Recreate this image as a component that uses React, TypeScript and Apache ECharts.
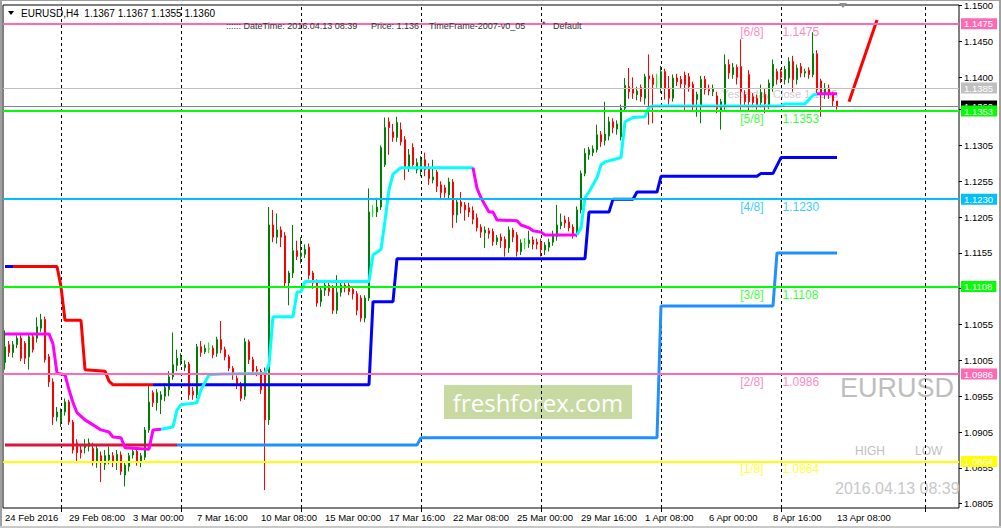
import React, { useEffect, useRef } from "react";
import * as echarts from "echarts";

// ---------------- DATA ----------------
const symbolName = "EURUSD,H4";
const timeLabels = [
  "24 Feb 2016", "29 Feb 08:00", "3 Mar 00:00", "7 Mar 16:00", "10 Mar 08:00",
  "15 Mar 00:00", "17 Mar 16:00", "22 Mar 08:00", "25 Mar 00:00", "29 Mar 16:00",
  "1 Apr 08:00", "6 Apr 00:00", "8 Apr 16:00", "13 Apr 08:00",
];
const LABEL_STEP = 16; // bars between time labels
const SLOT_COUNT = 239; // bar slots on the time axis (incl. empty future area)
const gridBars = [14, 44, 74, 104, 134, 164, 194, 230];
const priceTicks = [
  1.0805, 1.0855, 1.0905, 1.0955, 1.1005, 1.1055, 1.1105, 1.1155, 1.1205,
  1.1255, 1.1305, 1.1355, 1.14, 1.145, 1.15,
];

// [open, close, low, high]
const candles: number[][] = [
  [1.1002, 1.1024, 1.0992, 1.1047], [1.1027, 1.1016, 1.1010, 1.1032], [1.1016, 1.1027, 1.1009, 1.1032],
  [1.1027, 1.1036, 1.1022, 1.1040], [1.1036, 1.1008, 1.1004, 1.1040], [1.1029, 1.1008, 1.1000, 1.1032],
  [1.1010, 1.1038, 1.0992, 1.1041], [1.1038, 1.1020, 1.1016, 1.1042], [1.1036, 1.1052, 1.1030, 1.1065],
  [1.1050, 1.1062, 1.1045, 1.1070], [1.1062, 1.1006, 1.1002, 1.1066], [1.1010, 1.0975, 1.0968, 1.1014],
  [1.0975, 1.0926, 1.0915, 1.0980], [1.0926, 1.0933, 1.0920, 1.0940], [1.0920, 1.0933, 1.0912, 1.0938],
  [1.0933, 1.0947, 1.0928, 1.0952], [1.0947, 1.0919, 1.0915, 1.0950], [1.0919, 1.0880, 1.0875, 1.0922],
  [1.0890, 1.0876, 1.0863, 1.0895], [1.0880, 1.0876, 1.0868, 1.0888], [1.0883, 1.0887, 1.0875, 1.0895],
  [1.0885, 1.0890, 1.0878, 1.0896], [1.0882, 1.0863, 1.0858, 1.0890], [1.0862, 1.0882, 1.0855, 1.0887],
  [1.0872, 1.0863, 1.0835, 1.0878], [1.0860, 1.0872, 1.0852, 1.0880], [1.0866, 1.0873, 1.0860, 1.0885],
  [1.0872, 1.0863, 1.0856, 1.0877], [1.0863, 1.0874, 1.0852, 1.0880], [1.0873, 1.0850, 1.0845, 1.0878],
  [1.0845, 1.0859, 1.0829, 1.0863], [1.0857, 1.0872, 1.0850, 1.0876], [1.0873, 1.0878, 1.0868, 1.0884],
  [1.0878, 1.0864, 1.0858, 1.0882], [1.0862, 1.0872, 1.0856, 1.0876], [1.0870, 1.0908, 1.0866, 1.0912],
  [1.0908, 1.0947, 1.0904, 1.0970], [1.0960, 1.0946, 1.0940, 1.0963], [1.0946, 1.0960, 1.0935, 1.0965],
  [1.0950, 1.0957, 1.0930, 1.0962], [1.0955, 1.0967, 1.0948, 1.0973], [1.0964, 1.0982, 1.0955, 1.0990],
  [1.0982, 1.0999, 1.0978, 1.1044], [1.0998, 1.1008, 1.0990, 1.1020], [1.1005, 1.1010, 1.0998, 1.1015],
  [1.0995, 1.0999, 1.0990, 1.1005], [1.1000, 1.0957, 1.0950, 1.1003], [1.0962, 1.0957, 1.0950, 1.0968],
  [1.0957, 1.1024, 1.0952, 1.1028], [1.1024, 1.1016, 1.1010, 1.1032], [1.1017, 1.1022, 1.1014, 1.1027],
  [1.1021, 1.1021, 1.1015, 1.1030], [1.1022, 1.1013, 1.1008, 1.1026], [1.1015, 1.1034, 1.1010, 1.1038],
  [1.1034, 1.1020, 1.1015, 1.1060], [1.1020, 1.1010, 1.1005, 1.1024], [1.1010, 1.0994, 1.0990, 1.1013],
  [1.0994, 1.0985, 1.0978, 1.0997], [1.0980, 1.0970, 1.0965, 1.0984], [1.0972, 1.0952, 1.0948, 1.0975],
  [1.0955, 1.1031, 1.0950, 1.1036], [1.1031, 1.1006, 1.1000, 1.1034], [1.1006, 1.0990, 1.0985, 1.1010],
  [1.0992, 1.0990, 1.0983, 1.0997], [1.0990, 1.0964, 1.0958, 1.0993], [1.0990, 1.0922, 1.0824, 1.0995],
  [1.0922, 1.1194, 1.0915, 1.1219], [1.1194, 1.1177, 1.1170, 1.1215], [1.1177, 1.1187, 1.1168, 1.1210],
  [1.1187, 1.1177, 1.1163, 1.1192], [1.1179, 1.1113, 1.1108, 1.1184], [1.1113, 1.1127, 1.1082, 1.1130],
  [1.1127, 1.1158, 1.1120, 1.1194], [1.1158, 1.1150, 1.1145, 1.1172], [1.1150, 1.1155, 1.1140, 1.1177],
  [1.1153, 1.1160, 1.1148, 1.1167], [1.1163, 1.1124, 1.1118, 1.1168], [1.1127, 1.1113, 1.1105, 1.1130],
  [1.1115, 1.1085, 1.1080, 1.1118], [1.1087, 1.1103, 1.1080, 1.1108], [1.1103, 1.1110, 1.1095, 1.1115],
  [1.1110, 1.1101, 1.1095, 1.1114], [1.1106, 1.1075, 1.1070, 1.1110], [1.1075, 1.1100, 1.1070, 1.1124],
  [1.1100, 1.1110, 1.1094, 1.1115], [1.1110, 1.1106, 1.1100, 1.1114], [1.1110, 1.1101, 1.1096, 1.1113],
  [1.1104, 1.1098, 1.1090, 1.1108], [1.1098, 1.1075, 1.1068, 1.1102], [1.1092, 1.1064, 1.1059, 1.1096],
  [1.1064, 1.1092, 1.1058, 1.1096], [1.1092, 1.1212, 1.1088, 1.1245], [1.1212, 1.1212, 1.1205, 1.1222],
  [1.1212, 1.1219, 1.1205, 1.1232], [1.1219, 1.1302, 1.1215, 1.1305], [1.1278, 1.1330, 1.1275, 1.1344],
  [1.1338, 1.1330, 1.1292, 1.1344], [1.1324, 1.1316, 1.1310, 1.1335], [1.1316, 1.1337, 1.1310, 1.1345],
  [1.1327, 1.1310, 1.1305, 1.1337], [1.1313, 1.1275, 1.1257, 1.1318], [1.1275, 1.1292, 1.1268, 1.1300],
  [1.1302, 1.1278, 1.1272, 1.1308], [1.1271, 1.1281, 1.1266, 1.1287], [1.1271, 1.1285, 1.1262, 1.1290],
  [1.1285, 1.1271, 1.1262, 1.1295], [1.1273, 1.1259, 1.1250, 1.1280], [1.1257, 1.1261, 1.1252, 1.1285],
  [1.1268, 1.1248, 1.1240, 1.1271], [1.1250, 1.1239, 1.1230, 1.1255], [1.1246, 1.1239, 1.1232, 1.1250],
  [1.1236, 1.1254, 1.1230, 1.1260], [1.1254, 1.1208, 1.1190, 1.1258], [1.1208, 1.1226, 1.1197, 1.1230],
  [1.1226, 1.1220, 1.1210, 1.1240], [1.1222, 1.1215, 1.1200, 1.1226], [1.1218, 1.1212, 1.1205, 1.1225],
  [1.1214, 1.1202, 1.1195, 1.1220], [1.1204, 1.1190, 1.1185, 1.1210], [1.1191, 1.1184, 1.1176, 1.1195],
  [1.1183, 1.1187, 1.1162, 1.1192], [1.1186, 1.1182, 1.1175, 1.1190], [1.1185, 1.1171, 1.1165, 1.1189],
  [1.1171, 1.1176, 1.1166, 1.1180], [1.1177, 1.1172, 1.1162, 1.1182], [1.1174, 1.1162, 1.1150, 1.1178],
  [1.1162, 1.1187, 1.1155, 1.1192], [1.1187, 1.1177, 1.1170, 1.1190], [1.1180, 1.1157, 1.1150, 1.1184],
  [1.1157, 1.1169, 1.1152, 1.1174], [1.1168, 1.1168, 1.1160, 1.1176], [1.1168, 1.1173, 1.1162, 1.1186],
  [1.1173, 1.1167, 1.1160, 1.1178], [1.1170, 1.1167, 1.1160, 1.1175], [1.1170, 1.1160, 1.1150, 1.1175],
  [1.1159, 1.1166, 1.1152, 1.1170], [1.1163, 1.1170, 1.1157, 1.1175], [1.1170, 1.1180, 1.1165, 1.1186],
  [1.1178, 1.1194, 1.1172, 1.1222], [1.1193, 1.1198, 1.1188, 1.1210], [1.1201, 1.1197, 1.1190, 1.1207],
  [1.1198, 1.1190, 1.1185, 1.1205], [1.1191, 1.1182, 1.1175, 1.1195], [1.1182, 1.1215, 1.1177, 1.1220],
  [1.1215, 1.1266, 1.1210, 1.1270], [1.1266, 1.1294, 1.1262, 1.1301], [1.1292, 1.1299, 1.1285, 1.1303],
  [1.1295, 1.1300, 1.1290, 1.1305], [1.1299, 1.1320, 1.1295, 1.1334], [1.1320, 1.1310, 1.1303, 1.1325],
  [1.1312, 1.1321, 1.1305, 1.1366], [1.1318, 1.1338, 1.1312, 1.1345], [1.1338, 1.1330, 1.1322, 1.1343],
  [1.1328, 1.1335, 1.1320, 1.1340], [1.1317, 1.1357, 1.1312, 1.1362], [1.1357, 1.1389, 1.1352, 1.1399],
  [1.1387, 1.1380, 1.1370, 1.1413], [1.1384, 1.1378, 1.1370, 1.1400], [1.1376, 1.1381, 1.1368, 1.1387],
  [1.1386, 1.1373, 1.1366, 1.1390], [1.1371, 1.1401, 1.1362, 1.1405], [1.1402, 1.1398, 1.1334, 1.1432],
  [1.1399, 1.1390, 1.1336, 1.1404], [1.1393, 1.1393, 1.1385, 1.1405], [1.1385, 1.1408, 1.1378, 1.1416],
  [1.1408, 1.1385, 1.1369, 1.1412], [1.1385, 1.1371, 1.1362, 1.1402], [1.1371, 1.1399, 1.1366, 1.1404],
  [1.1399, 1.1394, 1.1388, 1.1405], [1.1397, 1.1391, 1.1385, 1.1402], [1.1403, 1.1390, 1.1352, 1.1408],
  [1.1401, 1.1387, 1.1380, 1.1406], [1.1390, 1.1359, 1.1352, 1.1394], [1.1369, 1.1376, 1.1345, 1.1380],
  [1.1359, 1.1397, 1.1336, 1.1402], [1.1397, 1.1383, 1.1376, 1.1402], [1.1383, 1.1381, 1.1375, 1.1390],
  [1.1380, 1.1385, 1.1374, 1.1390], [1.1374, 1.1356, 1.1350, 1.1380], [1.1354, 1.1366, 1.1327, 1.1370],
  [1.1362, 1.1418, 1.1355, 1.1432], [1.1418, 1.1406, 1.1398, 1.1425], [1.1404, 1.1414, 1.1398, 1.1420],
  [1.1414, 1.1400, 1.1390, 1.1418], [1.1415, 1.1380, 1.1355, 1.1453], [1.1376, 1.1366, 1.1360, 1.1382],
  [1.1404, 1.1366, 1.1352, 1.1410], [1.1373, 1.1365, 1.1358, 1.1378], [1.1371, 1.1362, 1.1355, 1.1376],
  [1.1365, 1.1379, 1.1358, 1.1390], [1.1376, 1.1363, 1.1350, 1.1385], [1.1362, 1.1392, 1.1356, 1.1397],
  [1.1388, 1.1418, 1.1380, 1.1425], [1.1408, 1.1397, 1.1390, 1.1412], [1.1408, 1.1400, 1.1392, 1.1412],
  [1.1397, 1.1411, 1.1390, 1.1416], [1.1399, 1.1422, 1.1392, 1.1428], [1.1422, 1.1397, 1.1380, 1.1430],
  [1.1397, 1.1413, 1.1390, 1.1418], [1.1415, 1.1406, 1.1400, 1.1420], [1.1406, 1.1408, 1.1400, 1.1412],
  [1.1410, 1.1404, 1.1398, 1.1414], [1.1404, 1.1433, 1.1400, 1.1463], [1.1433, 1.1383, 1.1378, 1.1438],
  [1.1395, 1.1376, 1.1345, 1.1398], [1.1376, 1.1385, 1.1370, 1.1392], [1.1385, 1.1376, 1.1370, 1.1390],
  [1.1376, 1.1367, 1.1360, 1.1380], [1.1367, 1.1360, 1.1355, 1.1367],
];

// step-trend indicator (upper), vertices [bar, price]
const trendBlueStart = [[0, 1.1136], [2, 1.1136]];
const trendRed = [[2, 1.1136], [13, 1.1136], [14, 1.1108], [15, 1.1061], [19, 1.1061], [20, 1.0992], [25, 1.099], [26, 1.0976], [27, 1.0971], [37, 1.0971]];
const trendBlue = [[37, 1.0971], [91, 1.0971], [92, 1.1087], [97, 1.1087], [98, 1.1147], [145, 1.1147], [146, 1.1212], [151, 1.1212], [152, 1.123], [157, 1.123], [158, 1.124], [163, 1.124], [164, 1.1262], [188, 1.1262], [189, 1.1266], [192, 1.1266], [194, 1.1288], [208, 1.1288]];
// step-trend indicator (lower)
const baseCrimson = [[0, 1.0887], [43, 1.0887]];
const baseDodger = [[43, 1.0887], [103, 1.0887], [104, 1.0897], [163, 1.0897], [164, 1.1081], [192, 1.1081], [193, 1.1155], [208, 1.1155]];
// trailing line: magenta (down) / cyan (up)
const trailMagenta1 = [[0, 1.1042], [11, 1.1042], [12, 1.1028], [13, 1.0987], [15, 1.0985], [16, 1.0964], [17, 1.0946], [18, 1.0932], [20, 1.0922], [22, 1.0915], [24, 1.0908], [26, 1.0905], [27, 1.0898], [29, 1.0897], [30, 1.0883], [36, 1.0881], [37, 1.0908], [39, 1.0909]];
const trailCyan1 = [[39, 1.0909], [42, 1.0912], [43, 1.0936], [44, 1.0943], [48, 1.0946], [49, 1.0964], [51, 1.0985], [54, 1.0986], [65, 1.0987], [66, 1.0999], [67, 1.1066], [72, 1.1066], [73, 1.11], [74, 1.1101], [75, 1.1115], [91, 1.1115], [92, 1.1152], [94, 1.116], [95, 1.12], [96, 1.1243], [97, 1.1265], [99, 1.1274], [117, 1.1274]];
const trailMagenta2 = [[117, 1.1274], [118, 1.1245], [119, 1.1232], [120, 1.1222], [121, 1.1212], [122, 1.1212], [123, 1.1201], [128, 1.12], [129, 1.1194], [131, 1.119], [132, 1.1186], [134, 1.1184], [135, 1.118], [143, 1.118]];
const trailCyan2 = [[143, 1.118], [144, 1.119], [145, 1.1232], [146, 1.124], [147, 1.125], [148, 1.126], [149, 1.1278], [150, 1.1282], [152, 1.1285], [154, 1.1288], [155, 1.1338], [157, 1.1344], [160, 1.1345], [161, 1.1358], [162, 1.136], [194, 1.136], [195, 1.1363], [200, 1.1363], [202, 1.1375], [203, 1.1377]];
const trailMagenta3 = [[203, 1.1377], [208, 1.1377]];
const projection = [[211, 1.1366], [218, 1.148]];

// Murrey levels
const levelTags = ["[6/8]", "[5/8]", "[4/8]", "[3/8]", "[2/8]", "[1/8]"];
const levelValues = [1.1475, 1.1353, 1.123, 1.1108, 1.0986, 1.0864];
const yesterdayClose = 1.1385;
const currentPrice = 1.136;

const infoDateTime = "2016.04.13 08:39";
const infoPrice = "1.136";
const infoTimeFrame = "TimeFrame-2007-v0_05";
const infoTemplate = "Default";

// ---------------- STYLE ----------------
const FONT = '"Liberation Sans", Arial, sans-serif';
const Y_MIN = 1.0799;
const Y_MAX = 1.1501;
const LEVEL_COLORS = ["#FF69B4", "#00FF00", "#00BFFF", "#00FF00", "#FF69B4", "#FFFF00"];
const UP = "#008000";
const DOWN = "#FF0000";
const DOJI = "#00FF00";
const LEVEL_TAG_BAR = 190;
const LEVEL_VALUE_BAR = 194;
const NOTE_BAR = 179;

function lineSeries(data: number[][], color: string, width = 3) {
  return {
    type: "line",
    data,
    symbol: "none",
    showSymbol: false,
    silent: true,
    z: 3,
    lineStyle: { color, width },
    itemStyle: { color },
  };
}

function textEl(text: string, x: number, y: number, font: string, fill: string, align = "left", z = 0) {
  return {
    type: "text",
    x,
    y,
    z,
    silent: true,
    style: {
      text,
      font,
      fill,
      align,
      textAlign: align,
      verticalAlign: "middle",
      textVerticalAlign: "middle",
    },
  };
}

function buildOption() {
  const categories = Array.from({ length: SLOT_COUNT }, (_, i) => String(i));
  const candleItems = candles.map((c) =>
    c[0] === c[1]
      ? { value: c, itemStyle: { color: DOJI, color0: DOJI, borderColor: DOJI, borderColor0: DOJI } }
      : c
  );
  const last = candles[candles.length - 1];
  const header = `${symbolName}  ${last[0].toFixed(4)} ${last[3].toFixed(4)} ${last[2].toFixed(4)} ${last[1].toFixed(4)}`;

  const boxLabel = (bg: string) => ({
    show: true,
    position: "end",
    distance: 2,
    formatter: (p: any) => Number(p.value).toFixed(4),
    color: "#fff",
    backgroundColor: bg,
    padding: [1, 4, 0, 3],
    fontSize: 9.5,
    lineHeight: 10,
    fontFamily: FONT,
  });

  const levelLines = [
    { yAxis: yesterdayClose, lineStyle: { color: "#C0C0C0", width: 1, type: "solid" }, label: boxLabel("#C0C0C0") },
    { yAxis: currentPrice, lineStyle: { color: "#778899", width: 1, type: "solid" }, label: boxLabel("#000000") },
    ...levelValues.map((v, i) => ({
      yAxis: v,
      lineStyle: { color: LEVEL_COLORS[i], width: 2, type: "solid" },
      label: boxLabel(LEVEL_COLORS[i]),
    })),
  ];

  return {
    animation: false,
    backgroundColor: "#ffffff",
    grid: {
      left: 3,
      top: 5,
      width: 956,
      height: 503,
      show: true,
      borderColor: "#000",
      borderWidth: 1,
      backgroundColor: "transparent",
    },
    xAxis: {
      type: "category",
      data: categories,
      boundaryGap: true,
      axisLine: { show: false },
      axisTick: {
        show: true,
        alignWithLabel: true,
        interval: (i: number) => gridBars.includes(i),
        length: 4,
        lineStyle: { color: "#000" },
      },
      axisLabel: {
        interval: (i: number) => i % LABEL_STEP === 0 && i / LABEL_STEP < timeLabels.length,
        formatter: (_v: string, i: number) => timeLabels[i / LABEL_STEP] ?? "",
        align: "left",
        margin: 4,
        fontSize: 9.5,
        color: "#000",
        fontFamily: FONT,
      },
      splitLine: { show: false },
    },
    yAxis: {
      type: "value",
      position: "right",
      min: Y_MIN,
      max: Y_MAX,
      scale: true,
      splitLine: { show: false },
      axisLine: { show: false },
      axisTick: { show: true, customValues: priceTicks, length: 3, lineStyle: { color: "#000" } },
      axisLabel: {
        customValues: priceTicks,
        formatter: (v: number) => v.toFixed(4),
        margin: 5,
        fontSize: 9.5,
        color: "#000",
        fontFamily: FONT,
      },
    },
    graphic: [
      { type: "rect", shape: { x: 0, y: 0, width: 2, height: 528 }, style: { fill: "#A0A0A0" }, z: 20, silent: true },
      { type: "rect", shape: { x: 0, y: 0, width: 1001, height: 1 }, style: { fill: "#A0A0A0" }, z: 20, silent: true },
      { type: "rect", shape: { x: 999, y: 0, width: 2, height: 528 }, style: { fill: "#A0A0A0" }, z: 20, silent: true },
      { type: "rect", shape: { x: 0, y: 526, width: 1001, height: 2 }, style: { fill: "#C8C8C8" }, z: 20, silent: true },
      { type: "polygon", shape: { points: [[8, 11], [14, 11], [11, 15]] }, style: { fill: "#000" }, z: 20, silent: true },
      { type: "polygon", shape: { points: [[839, 3], [847, 3], [843, 8]] }, style: { fill: "#909090" }, z: 20, silent: true },
      textEl(header, 21, 13.5, `10px ${FONT}`, "#000", "left", 20),
      textEl(`:::::: DateTime: ${infoDateTime}`, 226, 26, `9px ${FONT}`, "#333", "left", 20),
      textEl(`Price: ${infoPrice}`, 371, 26, `9px ${FONT}`, "#333", "left", 20),
      textEl(infoTimeFrame, 429, 26, `9px ${FONT}`, "#333", "left", 20),
      textEl("*", 542, 24, `9px ${FONT}`, "#333", "left", 20),
      textEl(infoTemplate, 553, 26, `9px ${FONT}`, "#333", "left", 20),
      { type: "rect", shape: { x: 444, y: 385, width: 188, height: 34 }, style: { fill: "#C8DAA2" }, z: 0, silent: true },
      textEl("freshforex.com", 538, 402, `24px "Open Sans", ${FONT}`, "#ffffff", "center", 0),
      textEl("EURUSD", 954, 388, `27px ${FONT}`, "#BEBEBE", "right", 0),
      textEl("HIGH", 855, 451, `12px ${FONT}`, "#C0C0C0", "left", 0),
      textEl("LOW", 915, 451, `12px ${FONT}`, "#C0C0C0", "left", 0),
      textEl(infoDateTime, 835, 488, `16px ${FONT}`, "#C8C8C8", "left", 0),
    ],
    series: [
      {
        type: "scatter",
        name: "notes",
        z: 1,
        clip: false,
        silent: true,
        symbolSize: 1,
        itemStyle: { color: "rgba(0,0,0,0)" },
        data: [[NOTE_BAR, yesterdayClose]],
        label: {
          show: true,
          position: "right",
          distance: 0,
          offset: [0, 6],
          formatter: () => `Yesterday Close ${yesterdayClose.toFixed(4)}`,
          color: "#C0C0C0",
          fontSize: 11,
          fontFamily: FONT,
        },
        markLine: {
          silent: true,
          z: 1,
          symbol: ["none", "none"],
          label: { show: false },
          lineStyle: { color: "#000", width: 1, type: [3, 3] },
          data: gridBars.map((b) => ({ xAxis: b })),
        },
      },
      {
        type: "candlestick",
        name: "EURUSD",
        z: 2,
        silent: true,
        barWidth: 2,
        data: candleItems,
        itemStyle: { color: UP, color0: DOWN, borderColor: UP, borderColor0: DOWN, borderWidth: 1 },
      },
      lineSeries(trendBlueStart, "#0000FF"),
      lineSeries(trendRed, "#FF0000"),
      lineSeries(trendBlue, "#0000FF"),
      lineSeries(baseCrimson, "#DC143C"),
      lineSeries(baseDodger, "#1E90FF"),
      lineSeries(trailMagenta1, "#FF00FF"),
      lineSeries(trailCyan1, "#00FFFF"),
      lineSeries(trailMagenta2, "#FF00FF"),
      lineSeries(trailCyan2, "#00FFFF"),
      lineSeries(trailMagenta3, "#FF00FF"),
      { ...lineSeries(projection, "#FF0000", 3), clip: false },
      {
        type: "scatter",
        name: "levelTags",
        z: 4,
        clip: false,
        silent: true,
        symbolSize: 1,
        itemStyle: { color: "rgba(0,0,0,0)" },
        data: levelValues.map((v, i) => ({ value: [LEVEL_TAG_BAR, v], label: { color: LEVEL_COLORS[i] } })),
        label: {
          show: true,
          position: "left",
          distance: 1,
          offset: [0, 8],
          formatter: (p: any) => levelTags[p.dataIndex],
          fontSize: 12,
          fontFamily: FONT,
        },
        markLine: {
          silent: true,
          z: 5,
          precision: 5,
          symbol: ["none", "none"],
          data: levelLines,
        },
      },
      {
        type: "scatter",
        name: "levelValues",
        z: 4,
        clip: false,
        silent: true,
        symbolSize: 1,
        itemStyle: { color: "rgba(0,0,0,0)" },
        data: levelValues.map((v, i) => ({ value: [LEVEL_VALUE_BAR, v], label: { color: LEVEL_COLORS[i] } })),
        label: {
          show: true,
          position: "right",
          distance: 1,
          offset: [0, 8],
          formatter: (p: any) => levelValues[p.dataIndex].toFixed(4),
          fontSize: 12,
          fontFamily: FONT,
        },
      },
    ],
  };
}

export default function App() {
  const ref = useRef<HTMLDivElement>(null);
  useEffect(() => {
    if (!ref.current) return;
    const chart = echarts.init(ref.current, null, { renderer: "svg" });
    chart.setOption(buildOption() as any);
    return () => chart.dispose();
  }, []);
  return (
    <div
      ref={ref}
      style={{ position: "fixed", left: 0, top: 0, width: 1001, height: 528, background: "#ffffff" }}
    />
  );
}
